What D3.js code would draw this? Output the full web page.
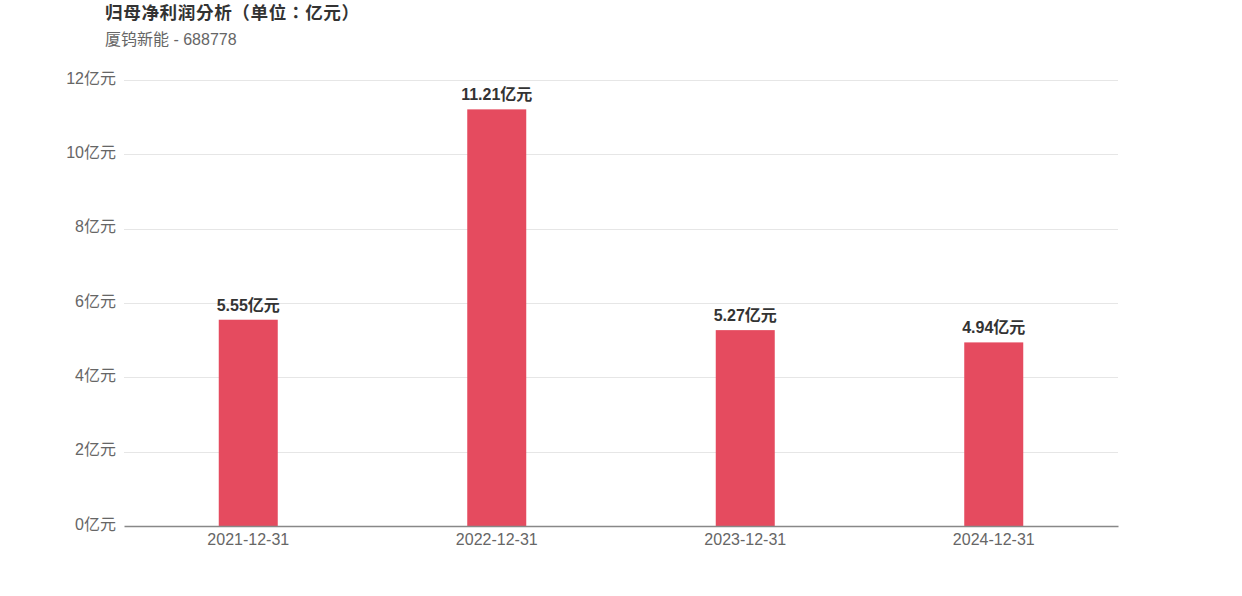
<!DOCTYPE html>
<html><head><meta charset="utf-8">
<script src="https://cdn.jsdelivr.net/npm/d3@7"></script>
<style>
body{margin:0;background:#fff;font-family:"Liberation Sans","Noto Sans CJK SC",sans-serif;}
text{text-spacing-trim:space-all;}
</style></head><body>
<svg id="chart" width="1242" height="596"></svg>
<script>
const categories = ["2021-12-31","2022-12-31","2023-12-31","2024-12-31"];
const values = [5.55, 11.21, 5.27, 4.94];
const yTicks = [0,2,4,6,8,10,12];
const title = "归母净利润分析（单位：亿元）";
const subtitle = "厦钨新能 - 688778";

const svg = d3.select("#chart");
const font = '"Liberation Sans","Noto Sans CJK SC",sans-serif';
const titleFont = '"Liberation Sans","Noto Sans CJK TC","Noto Sans CJK SC",sans-serif';
const mLeft = 124, mRight = 1118, mTop = 80, mBottom = 526;

const x = d3.scaleBand().domain(categories).range([mLeft, mRight]).paddingInner(0).paddingOuter(0);
const y = d3.scaleLinear().domain([0, 12]).range([mBottom, mTop]);

svg.append("text").attr("x", 105).attr("y", 19).text(title)
  .attr("font-family", titleFont).attr("font-size", 17.6).attr("font-weight", "bold")
  .attr("letter-spacing", 0.6).attr("fill", "#333");
svg.append("text").attr("x", 105).attr("y", 45).text(subtitle)
  .attr("font-family", font).attr("font-size", 16).attr("fill", "#666");

// gridlines
svg.append("g").selectAll("line").data(yTicks.filter(d => d > 0)).join("line")
  .attr("x1", mLeft).attr("x2", mRight)
  .attr("y1", d => Math.round(y(d)) + 0.5).attr("y2", d => Math.round(y(d)) + 0.5)
  .attr("stroke", "#e6e6e6").attr("stroke-width", 1);

// y axis labels
const yAxis = d3.axisLeft(y).tickValues(yTicks).tickFormat(d => d + "亿元").tickSize(0).tickPadding(8);
const gy = svg.append("g").attr("transform", `translate(${mLeft},0)`).call(yAxis);
gy.select(".domain").remove();
gy.selectAll("text").attr("font-family", font).attr("font-size", 16).attr("fill", "#666").attr("dy", "0.2em");

// bars
const bw = 59;
svg.append("g").selectAll("rect").data(values).join("rect")
  .attr("x", (d, i) => x(categories[i]) + x.bandwidth() / 2 - bw / 2)
  .attr("width", bw)
  .attr("y", d => y(d))
  .attr("height", d => y(0) - y(d))
  .attr("fill", "#e54b5f");

// value labels
svg.append("g").selectAll("text").data(values).join("text")
  .attr("x", (d, i) => x(categories[i]) + x.bandwidth() / 2)
  .attr("y", d => y(d) - 9)
  .attr("text-anchor", "middle")
  .attr("font-family", font).attr("font-size", 16).attr("font-weight", "bold").attr("fill", "#333")
  .text(d => d.toFixed(2) + "亿元");

// x axis
const xAxis = d3.axisBottom(x).tickSize(0).tickPadding(8);
const gx = svg.append("g").attr("transform", `translate(0,${mBottom})`).call(xAxis);
gx.select(".domain").attr("stroke", "#888").attr("stroke-width", 1.5);
gx.selectAll("text").attr("font-family", font).attr("font-size", 16).attr("fill", "#666");
</script>
</body></html>
